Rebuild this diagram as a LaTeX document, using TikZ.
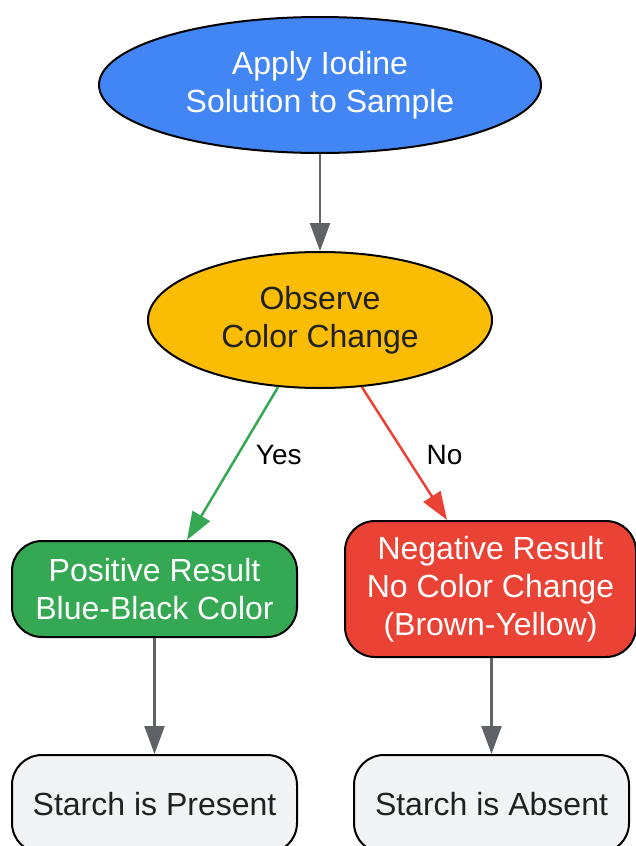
\documentclass[tikz,border=0pt]{standalone}
\usepackage{fontspec}
\setmainfont{Liberation Sans}
\usetikzlibrary{shapes.geometric,arrows.meta,calc}
\definecolor{gblue}{HTML}{4285F4}
\definecolor{gyellow}{HTML}{FBBC04}
\definecolor{ggreen}{HTML}{34A853}
\definecolor{gred}{HTML}{EA4335}
\definecolor{glight}{HTML}{F1F3F4}
\definecolor{ggray}{HTML}{5F6368}
\definecolor{gdark}{HTML}{202124}
\begin{document}
\begin{tikzpicture}[x=1pt,y=-1pt,
  txt/.style={font=\fontsize{32pt}{38pt}\selectfont, align=center, inner sep=0pt},
  oval/.style={ellipse, draw=black, line width=2pt, txt},
  rbox/.style={rectangle, rounded corners=30pt, draw=black, line width=2pt, txt},
  arr/.style={line width=2.5pt, draw=ggray, -{Triangle[length=28pt,width=20pt]}},
  lbl/.style={font=\fontsize{28pt}{32pt}\selectfont, text=black, inner sep=0pt, anchor=west}]
\useasboundingbox (0,0) rectangle (636,846);
\clip (0,0) rectangle (636,846);
\node[oval, fill=gblue, text=white, minimum width=442pt, minimum height=136pt] (apply) at (320,85) {Apply Iodine\\Solution to Sample};
\node[oval, fill=gyellow, text=gdark, minimum width=344pt, minimum height=136pt] (obs) at (320,320) {Observe\\Color Change};
\node[rbox, fill=ggreen, text=white, minimum width=285pt, minimum height=96pt] (pos) at (154.5,589) {Positive Result\\Blue-Black Color};
\node[rbox, fill=gred, text=white, minimum width=291pt, minimum height=136pt] (neg) at (490.5,589) {Negative Result\\No Color Change\\(Brown-Yellow)};
\node[rbox, fill=glight, text=gdark, minimum width=285pt, minimum height=98pt] (pres) at (154.5,804) {Starch is Present};
\node[rbox, fill=glight, text=gdark, minimum width=275pt, minimum height=98pt] (abs) at (491.5,804) {Starch is Absent};
\draw[arr] (apply) -- (obs);
\draw[arr, draw=ggreen, fill=ggreen] (obs.-122) -- ($(pos.north)+(32.5,0)$) node[lbl, pos=0.444, xshift=17pt] {Yes};
\draw[arr, draw=gred, fill=gred] (obs.-58) -- ($(neg.north)+(-43.5,0)$) node[lbl, pos=0.511, xshift=20pt] {No};
\draw[arr, fill=ggray] (pos) -- (pres);
\draw[arr, fill=ggray] (neg.south -| abs) -- (abs);
\end{tikzpicture}
\end{document}
